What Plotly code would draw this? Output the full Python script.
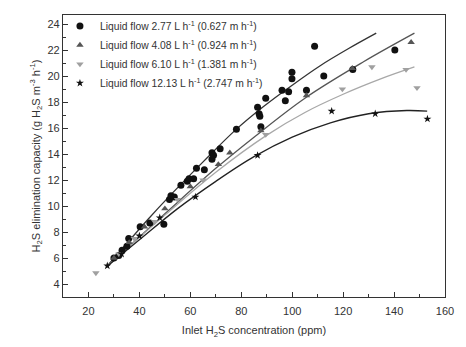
import plotly.graph_objects as go

# ---- data ----
s1_x = [30, 31.9, 33.2, 35.1, 35.8, 40.3, 44.1, 49.6, 51.8, 52.4, 53.7, 56.3, 58.8, 59.5, 61.3, 62.4, 65.5,
        68.5, 68.5, 69.1, 71.7, 78.1, 86.4, 87.0, 87.3, 87.7, 89.6, 96.0, 97.3, 98.6, 99.9, 99.9, 105.6,
        108.8, 112.4, 123.8, 140.3]
s1_y = [6.0, 6.2, 6.6, 6.9, 7.5, 8.4, 8.7, 8.6, 10.5, 10.8, 10.7, 11.6, 11.9, 12.1, 12.1, 12.9, 12.8,
        14.1, 13.6, 13.9, 14.4, 15.9, 17.6, 17.1, 16.9, 16.1, 18.3, 18.9, 18.1, 18.8, 19.8, 20.3, 18.9,
        22.3, 20.0, 20.5, 22.0]

s2_x = [30, 36, 42, 50, 60, 71, 75.5, 87.7, 105.6, 123.6, 146.7]
s2_y = [6.0, 7.2, 8.4, 9.8, 11.5, 13.2, 14.1, 15.8, 18.5, 20.6, 22.6]

s3_x = [22.9, 32, 38, 46, 55, 65, 89.6, 119.7, 131.3, 144.7, 149.0]
s3_y = [4.85, 6.3, 7.5, 8.8, 10.5, 12.0, 15.5, 19.0, 20.7, 20.5, 19.1]

s4_x = [27.4, 33, 40, 48, 62, 86.4, 115.5, 132.6, 153.1]
s4_y = [5.4, 6.3, 7.7, 9.1, 10.7, 13.9, 17.3, 17.1, 16.7]

# fitted curves
f1_x = [27, 43.5, 52, 65, 78, 89, 100, 111, 122, 133]
f1_y = [5.3, 9.0, 10.8, 13.4, 15.9, 17.7, 19.3, 20.8, 22.1, 23.3]
f2_x = [27, 50, 70, 85, 105, 128, 148]
f2_y = [5.3, 9.4, 12.9, 15.3, 18.3, 21.1, 23.3]
f3_x = [27, 50, 70, 89.6, 105, 120, 135, 148]
f3_y = [5.3, 9.3, 12.6, 15.4, 17.2, 18.6, 19.8, 20.7]
f4_x = [27, 40, 55, 70, 85, 100, 115, 130, 145, 153]
f4_y = [5.3, 7.4, 9.8, 11.9, 13.8, 15.3, 16.4, 17.1, 17.35, 17.3]

names = [
    "Liquid flow 2.77 L h<sup>-1</sup> (0.627 m h<sup>-1</sup>)",
    "Liquid flow 4.08 L h<sup>-1</sup> (0.924 m h<sup>-1</sup>)",
    "Liquid flow 6.10 L h<sup>-1</sup> (1.381 m h<sup>-1</sup>)",
    "Liquid flow 12.13 L h<sup>-1</sup> (2.747 m h<sup>-1</sup>)",
]

x_ticks = [20, 40, 60, 80, 100, 120, 140, 160]
y_ticks = [4, 6, 8, 10, 12, 14, 16, 18, 20, 22, 24]

fig = go.Figure()

fits = [(f1_x, f1_y, "#333333"), (f2_x, f2_y, "#555555"), (f3_x, f3_y, "#a8a8a8"), (f4_x, f4_y, "#222222")]
for fx, fy, c in fits:
    fig.add_trace(go.Scatter(x=fx, y=fy, mode="lines", line=dict(color=c, width=1.3, shape="spline"),
                             showlegend=False, hoverinfo="skip"))

series = [
    (s1_x, s1_y, "circle", "#111111", 7),
    (s2_x, s2_y, "triangle-up", "#555555", 6.5),
    (s3_x, s3_y, "triangle-down", "#a0a0a0", 6.5),
    (s4_x, s4_y, "star", "#111111", 6),
]
for (sx, sy, sym, col, sz), nm in zip(series, names):
    fig.add_trace(go.Scatter(x=sx, y=sy, mode="markers", name=nm,
                             marker=dict(symbol=sym, color=col, size=sz, line=dict(width=0))))

font = "Liberation Sans, Arial, sans-serif"
fig.update_layout(
    width=466, height=347,
    margin=dict(l=63, r=13, t=12, b=47),
    plot_bgcolor="white", paper_bgcolor="white",
    font=dict(family=font, size=11, color="#333333"),
    legend=dict(x=-0.008, y=1.012, xanchor="left", yanchor="top", bgcolor="rgba(0,0,0,0)",
                font=dict(size=10.3, color="#333333"), tracegroupgap=0, itemwidth=30),
    xaxis=dict(range=[10, 160], tickvals=x_ticks, ticks="inside", ticklen=5, tickcolor="#333",
               minor=dict(dtick=10, ticks="inside", ticklen=3, tickcolor="#333"),
               ticklabelstandoff=4,
               showline=True, linecolor="#333333", linewidth=1.2, mirror=True, showgrid=False, zeroline=False,
               title=dict(text="Inlet H<sub>2</sub>S concentration (ppm)", standoff=10, font=dict(size=11))),
    yaxis=dict(range=[3, 24.7], tickvals=y_ticks, ticks="inside", ticklen=5, tickcolor="#333",
               minor=dict(dtick=1, ticks="inside", ticklen=3, tickcolor="#333"),
               showline=True, linecolor="#333333", linewidth=1.2, mirror=True, showgrid=False, zeroline=False,
               title=dict(text="H<sub>2</sub>S elimination capacity (g H<sub>2</sub>S m<sup>-3</sup> h<sup>-1</sup>)",
                          standoff=4, font=dict(size=11))),
)

fig.write_html("out.html")
